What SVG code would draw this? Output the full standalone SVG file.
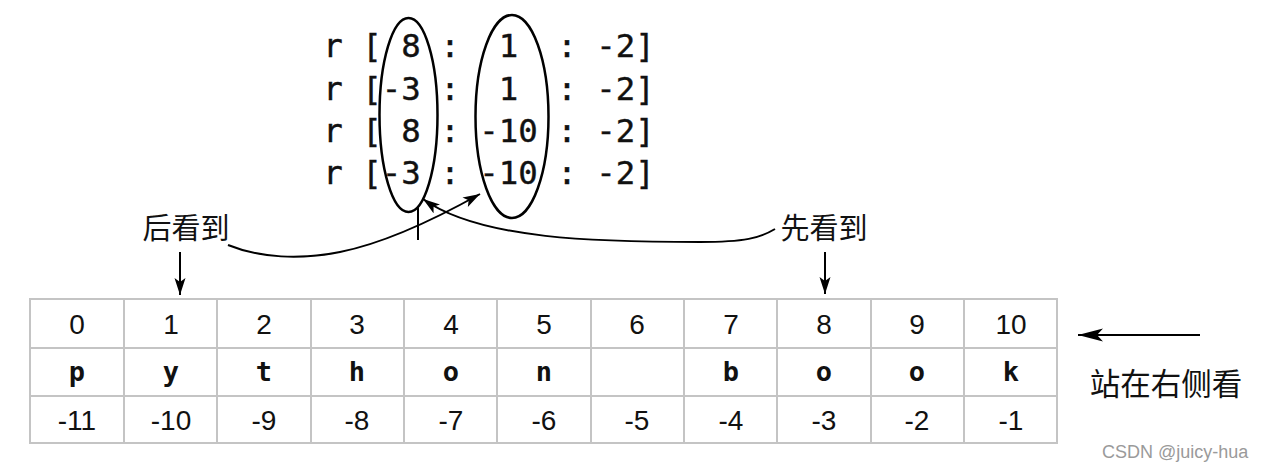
<svg xmlns="http://www.w3.org/2000/svg" width="1263" height="470" viewBox="0 0 1263 470">
<style>
.code{font-family:"DejaVu Sans Mono","Liberation Mono",monospace;font-size:32.4px;fill:#111;stroke:#111;stroke-width:0.4}
.ell{fill:none;stroke:#000;stroke-width:2.5}
.cn{font-family:"Noto Sans CJK SC",sans-serif;font-size:29px;fill:#111;text-anchor:middle}
.grid{stroke:#c4c4c4;stroke-width:2;fill:none}
.num{font-family:"Liberation Sans",Arial,sans-serif;font-size:28px;fill:#111;text-anchor:middle}
.ch{font-family:"DejaVu Sans Mono","Liberation Mono",monospace;font-weight:bold;font-size:27px;fill:#111;text-anchor:middle}
.ln{fill:none;stroke:#000;stroke-width:2}
.wm{font-family:"Liberation Sans",Arial,sans-serif;font-size:18px;fill:#9a9a9a}
</style>
<defs>
<marker id="ah" markerUnits="userSpaceOnUse" markerWidth="19" markerHeight="12" refX="17" refY="5.5" orient="auto">
<path d="M0,0 L17,5.5 L0,11 L4,5.5 z" fill="#000"/>
</marker>
<marker id="ahBig" markerUnits="userSpaceOnUse" markerWidth="26" markerHeight="14" refX="25" refY="6.5" orient="auto">
<path d="M0,0 L25,6.5 L0,13 L6,6.5 z" fill="#000"/>
</marker>
</defs>
<rect width="1263" height="470" fill="#fff"/>

<g id="code">
<text class="code" xml:space="preserve" x="323.25" y="57">r [ 8 :  1  : -2]</text>
<text class="code" xml:space="preserve" x="323.25" y="100">r [-3 :  1  : -2]</text>
<text class="code" xml:space="preserve" x="323.25" y="142">r [ 8 : -10 : -2]</text>
<text class="code" xml:space="preserve" x="323.25" y="184">r [-3 : -10 : -2]</text>
</g>

<g id="ellipse-start">
<ellipse class="ell" cx="408.5" cy="115" rx="29" ry="97"/>
</g>
<g id="ellipse-stop">
<ellipse class="ell" cx="512" cy="116.5" rx="36.5" ry="101.5"/>
</g>

<g id="label-later">
<text class="cn" x="186" y="239">后看到</text>
</g>
<g id="label-first">
<text class="cn" x="824" y="239">先看到</text>
</g>
<g id="label-right">
<text class="cn" x="1166" y="395" style="font-size:30.5px">站在右侧看</text>
</g>

<g id="connectors">
<path class="ln" d="M228,245 C260,258 300,260 340,252 C380,244 430,222 480,194" marker-end="url(#ah)"/>
<path class="ln" d="M775,229 C760,238 745,242 700,242 C600,242 480,240 423,199" marker-end="url(#ah)"/>
<line class="ln" x1="418" y1="207" x2="418" y2="240"/>
<line class="ln" x1="180" y1="252" x2="180" y2="295" marker-end="url(#ah)"/>
<line class="ln" x1="825" y1="252" x2="825" y2="294" marker-end="url(#ah)"/>
<line class="ln" x1="1200" y1="335" x2="1078" y2="335" marker-end="url(#ahBig)"/>
</g>

<g id="table">
<rect class="grid" x="30" y="299" width="1027" height="144"/>
<path class="grid" d="M30,348 H1057 M30,396 H1057 M124,299 V443 M217,299 V443 M311,299 V443 M404,299 V443 M497,299 V443 M591,299 V443 M684,299 V443 M777,299 V443 M871,299 V443 M964,299 V443"/>
<g id="col0"><text class="num" x="77" y="334">0</text><text class="ch" x="77" y="381">p</text><text class="num" x="77" y="430">-11</text></g>
<g id="col1"><text class="num" x="171" y="334">1</text><text class="ch" x="171" y="381">y</text><text class="num" x="171" y="430">-10</text></g>
<g id="col2"><text class="num" x="264" y="334">2</text><text class="ch" x="264" y="381">t</text><text class="num" x="264" y="430">-9</text></g>
<g id="col3"><text class="num" x="357" y="334">3</text><text class="ch" x="357" y="381">h</text><text class="num" x="357" y="430">-8</text></g>
<g id="col4"><text class="num" x="451" y="334">4</text><text class="ch" x="451" y="381">o</text><text class="num" x="451" y="430">-7</text></g>
<g id="col5"><text class="num" x="544" y="334">5</text><text class="ch" x="544" y="381">n</text><text class="num" x="544" y="430">-6</text></g>
<g id="col6"><text class="num" x="637" y="334">6</text><text class="num" x="637" y="430">-5</text></g>
<g id="col7"><text class="num" x="731" y="334">7</text><text class="ch" x="731" y="381">b</text><text class="num" x="731" y="430">-4</text></g>
<g id="col8"><text class="num" x="824" y="334">8</text><text class="ch" x="824" y="381">o</text><text class="num" x="824" y="430">-3</text></g>
<g id="col9"><text class="num" x="917" y="334">9</text><text class="ch" x="917" y="381">o</text><text class="num" x="917" y="430">-2</text></g>
<g id="col10"><text class="num" x="1011" y="334">10</text><text class="ch" x="1011" y="381">k</text><text class="num" x="1011" y="430">-1</text></g>
</g>

<text class="wm" x="1102" y="458">CSDN @juicy-hua</text>
</svg>
